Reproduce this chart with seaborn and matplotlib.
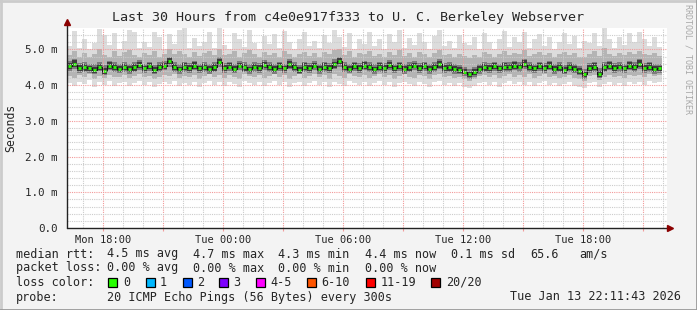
import numpy as np
import pandas as pd
import matplotlib
matplotlib.use("Agg")
import matplotlib.pyplot as plt
import seaborn as sns

# ---------------- data (ms, 15-minute bins) ----------------
median = [4.55, 4.60, 4.48, 4.50, 4.47, 4.42, 4.52, 4.40, 4.55, 4.50,
          4.46, 4.52, 4.44, 4.50, 4.56, 4.47, 4.53, 4.42, 4.50, 4.55,
          4.67, 4.50, 4.44, 4.52, 4.48, 4.55, 4.47, 4.52, 4.45, 4.50,
          4.65, 4.48, 4.52, 4.46, 4.55, 4.50, 4.44, 4.52, 4.48, 4.56,
          4.50, 4.45, 4.53, 4.47, 4.58, 4.50, 4.42, 4.52, 4.48, 4.55,
          4.45, 4.52, 4.48, 4.58, 4.67, 4.50, 4.46, 4.53, 4.48, 4.55,
          4.50, 4.44, 4.52, 4.48, 4.56, 4.47, 4.53, 4.45, 4.50, 4.55,
          4.48, 4.53, 4.45, 4.52, 4.58, 4.48, 4.50, 4.46, 4.42, 4.38,
          4.30, 4.36, 4.45, 4.50, 4.48, 4.53, 4.47, 4.52, 4.50, 4.55,
          4.52, 4.60, 4.50, 4.47, 4.53, 4.48, 4.55, 4.45, 4.50, 4.42,
          4.50, 4.46, 4.40, 4.30, 4.48, 4.52, 4.32, 4.50, 4.55, 4.48,
          4.52, 4.47, 4.55, 4.50, 4.60, 4.48, 4.52, 4.45, 4.47]

outer_hi = [5.10, 5.52, 5.05, 5.30, 5.00, 5.18, 5.58, 5.40, 5.12, 5.45,
            5.02, 5.25, 5.55, 5.48, 5.05, 5.20, 5.08, 5.50, 5.35, 5.00,
            5.42, 5.15, 5.55, 5.60, 5.05, 5.32, 5.10, 5.22, 5.50, 5.05,
            5.60, 5.12, 5.00, 5.45, 5.28, 5.08, 5.55, 5.18, 5.02, 5.38,
            5.15, 5.42, 5.05, 5.52, 5.20, 5.00, 5.30, 5.48, 5.10, 5.25,
            5.05, 5.40, 5.18, 5.55, 5.35, 5.08, 5.45, 5.02, 5.30, 5.15,
            5.50, 5.10, 5.28, 5.00, 5.42, 5.20, 5.55, 5.05, 5.32, 5.12,
            5.45, 5.22, 5.00, 5.38, 5.55, 5.10, 5.25, 5.05, 5.40, 5.18,
            5.12, 5.35, 5.02, 5.45, 5.20, 5.00, 5.30, 5.52, 5.08, 5.35,
            5.20, 5.48, 5.05, 5.28, 5.42, 5.10, 5.35, 5.00, 5.22, 5.45,
            5.15, 5.38, 5.05, 5.25, 5.18, 5.45, 5.10, 5.68, 5.28, 5.05,
            5.35, 5.12, 5.45, 5.20, 5.50, 5.28, 5.10, 5.35, 5.08]

outer_lo = [4.05, 3.98, 4.10, 4.02, 4.15, 3.95, 4.08, 4.00, 4.12, 3.97,
            4.05, 4.10, 3.98, 4.06, 4.12, 4.00, 4.08, 3.95, 4.04, 4.10,
            4.02, 4.12, 3.97, 4.06, 4.00, 4.10, 3.95, 4.05, 4.12, 4.00,
            4.08, 3.98, 4.10, 4.03, 3.96, 4.12, 4.05, 4.00, 4.10, 3.97,
            4.06, 4.12, 4.00, 4.08, 3.95, 4.05, 4.10, 3.98, 4.06, 4.12,
            4.00, 4.08, 3.96, 4.10, 4.04, 3.98, 4.12, 4.05, 4.00, 4.08,
            3.97, 4.06, 4.12, 4.00, 4.08, 3.95, 4.05, 4.10, 4.02, 3.98,
            4.10, 4.04, 3.96, 4.08, 4.12, 4.00, 4.06, 3.98, 4.05, 3.95,
            3.92, 3.98, 4.06, 4.10, 4.00, 4.08, 3.96, 4.05, 4.12, 4.02,
            4.08, 4.00, 4.10, 3.97, 4.05, 4.12, 4.00, 4.06, 3.98, 4.04,
            4.10, 3.98, 3.95, 3.92, 4.05, 4.08, 3.95, 4.02, 4.10, 4.00,
            4.06, 3.98, 4.10, 4.04, 4.08, 4.00, 4.12, 4.05, 4.10]

mid_hi = [4.85, 4.95, 4.80, 4.90, 4.78, 4.88, 5.00, 4.85, 4.80, 4.95,
          4.82, 4.92, 4.98, 4.85, 4.78, 4.90, 4.84, 4.96, 4.80, 4.88,
          5.00, 4.86, 4.95, 4.88, 4.80, 4.92, 4.83, 4.90, 4.97, 4.85,
          5.02, 4.84, 4.88, 4.95, 4.80, 4.90, 4.98, 4.86, 4.78, 4.92,
          4.84, 4.90, 4.80, 4.96, 4.88, 4.78, 4.86, 4.94, 4.82, 4.90,
          4.80, 4.92, 4.86, 4.98, 5.02, 4.84, 4.95, 4.80, 4.90, 4.86,
          4.96, 4.82, 4.88, 4.78, 4.92, 4.85, 4.98, 4.82, 4.90, 4.80,
          4.94, 4.86, 4.78, 4.90, 4.98, 4.84, 4.88, 4.80, 4.86, 4.82,
          4.75, 4.85, 4.80, 4.94, 4.86, 4.78, 4.88, 4.96, 4.84, 4.90,
          4.86, 4.98, 4.82, 4.88, 4.92, 4.84, 4.90, 4.78, 4.86, 4.94,
          4.84, 4.90, 4.80, 4.78, 4.86, 4.95, 4.82, 5.05, 4.88, 4.82,
          4.90, 4.84, 4.94, 4.86, 4.96, 4.88, 4.84, 4.90, 4.82]

mid_lo = [4.25, 4.20, 4.28, 4.22, 4.30, 4.18, 4.26, 4.20, 4.28, 4.22,
          4.24, 4.28, 4.20, 4.25, 4.30, 4.22, 4.27, 4.18, 4.24, 4.28,
          4.26, 4.30, 4.20, 4.26, 4.22, 4.28, 4.18, 4.25, 4.30, 4.22,
          4.28, 4.20, 4.28, 4.24, 4.18, 4.30, 4.25, 4.22, 4.28, 4.20,
          4.26, 4.30, 4.22, 4.28, 4.18, 4.25, 4.30, 4.20, 4.26, 4.30,
          4.22, 4.28, 4.18, 4.30, 4.26, 4.20, 4.30, 4.25, 4.22, 4.28,
          4.20, 4.26, 4.30, 4.22, 4.28, 4.18, 4.25, 4.30, 4.24, 4.20,
          4.28, 4.25, 4.18, 4.28, 4.30, 4.22, 4.26, 4.20, 4.22, 4.16,
          4.12, 4.18, 4.25, 4.28, 4.22, 4.28, 4.20, 4.26, 4.30, 4.24,
          4.28, 4.24, 4.30, 4.20, 4.26, 4.30, 4.22, 4.26, 4.20, 4.24,
          4.28, 4.20, 4.16, 4.12, 4.25, 4.28, 4.15, 4.24, 4.28, 4.22,
          4.26, 4.20, 4.28, 4.25, 4.28, 4.22, 4.30, 4.25, 4.28]

inner_hi = [4.68, 4.72, 4.62, 4.65, 4.60, 4.58, 4.66, 4.56, 4.68, 4.64,
            4.60, 4.66, 4.58, 4.64, 4.70, 4.60, 4.66, 4.56, 4.64, 4.68,
            4.80, 4.64, 4.58, 4.66, 4.62, 4.68, 4.60, 4.66, 4.58, 4.64,
            4.78, 4.62, 4.66, 4.60, 4.68, 4.64, 4.58, 4.66, 4.62, 4.70,
            4.64, 4.58, 4.66, 4.60, 4.72, 4.64, 4.56, 4.66, 4.62, 4.68,
            4.58, 4.66, 4.62, 4.72, 4.80, 4.64, 4.60, 4.66, 4.62, 4.68,
            4.64, 4.58, 4.66, 4.62, 4.70, 4.60, 4.66, 4.58, 4.64, 4.68,
            4.62, 4.66, 4.58, 4.66, 4.72, 4.62, 4.64, 4.60, 4.56, 4.52,
            4.46, 4.50, 4.58, 4.64, 4.62, 4.66, 4.60, 4.66, 4.64, 4.68,
            4.66, 4.74, 4.64, 4.60, 4.66, 4.62, 4.68, 4.58, 4.64, 4.56,
            4.64, 4.60, 4.54, 4.46, 4.62, 4.66, 4.48, 4.66, 4.68, 4.62,
            4.66, 4.60, 4.68, 4.64, 4.74, 4.62, 4.66, 4.58, 4.60]

inner_lo = [4.40, 4.45, 4.35, 4.38, 4.34, 4.30, 4.40, 4.28, 4.42, 4.36,
            4.34, 4.38, 4.32, 4.36, 4.42, 4.34, 4.40, 4.30, 4.36, 4.42,
            4.50, 4.36, 4.32, 4.38, 4.34, 4.42, 4.34, 4.38, 4.32, 4.36,
            4.50, 4.34, 4.40, 4.34, 4.42, 4.36, 4.32, 4.38, 4.34, 4.42,
            4.36, 4.32, 4.40, 4.34, 4.44, 4.36, 4.30, 4.38, 4.34, 4.42,
            4.32, 4.38, 4.34, 4.44, 4.52, 4.36, 4.34, 4.40, 4.34, 4.42,
            4.36, 4.32, 4.38, 4.34, 4.42, 4.34, 4.40, 4.32, 4.36, 4.42,
            4.34, 4.40, 4.32, 4.38, 4.44, 4.34, 4.36, 4.32, 4.30, 4.26,
            4.18, 4.24, 4.32, 4.36, 4.34, 4.40, 4.34, 4.38, 4.36, 4.42,
            4.38, 4.46, 4.36, 4.34, 4.40, 4.34, 4.42, 4.32, 4.36, 4.30,
            4.36, 4.34, 4.28, 4.18, 4.34, 4.38, 4.20, 4.36, 4.42, 4.34,
            4.38, 4.34, 4.42, 4.36, 4.46, 4.34, 4.38, 4.32, 4.34]

core_hi = [4.63, 4.69, 4.57, 4.58, 4.55, 4.51, 4.60, 4.49, 4.64, 4.58,
           4.55, 4.60, 4.53, 4.58, 4.65, 4.55, 4.62, 4.50, 4.58, 4.63,
           4.76, 4.58, 4.52, 4.61, 4.56, 4.64, 4.55, 4.60, 4.54, 4.58,
           4.74, 4.56, 4.61, 4.54, 4.63, 4.59, 4.52, 4.60, 4.57, 4.64,
           4.58, 4.53, 4.62, 4.55, 4.67, 4.58, 4.50, 4.61, 4.56, 4.63,
           4.53, 4.61, 4.56, 4.66, 4.76, 4.58, 4.54, 4.62, 4.56, 4.64,
           4.58, 4.52, 4.61, 4.56, 4.65, 4.55, 4.62, 4.53, 4.59, 4.63,
           4.56, 4.62, 4.53, 4.60, 4.67, 4.56, 4.59, 4.54, 4.50, 4.46,
           4.38, 4.44, 4.53, 4.59, 4.56, 4.62, 4.55, 4.61, 4.58, 4.64,
           4.60, 4.69, 4.58, 4.55, 4.62, 4.56, 4.64, 4.53, 4.59, 4.50,
           4.58, 4.54, 4.48, 4.38, 4.56, 4.61, 4.40, 4.59, 4.64, 4.56,
           4.60, 4.55, 4.64, 4.58, 4.69, 4.56, 4.61, 4.53, 4.55]

core_lo = [4.46, 4.51, 4.40, 4.41, 4.39, 4.34, 4.43, 4.32, 4.46, 4.42,
           4.38, 4.43, 4.36, 4.41, 4.48, 4.39, 4.45, 4.34, 4.42, 4.46,
           4.58, 4.42, 4.36, 4.43, 4.40, 4.46, 4.39, 4.43, 4.37, 4.41,
           4.56, 4.40, 4.44, 4.38, 4.47, 4.41, 4.36, 4.44, 4.39, 4.48,
           4.42, 4.37, 4.44, 4.39, 4.49, 4.42, 4.34, 4.43, 4.40, 4.47,
           4.37, 4.43, 4.40, 4.49, 4.58, 4.42, 4.38, 4.44, 4.40, 4.46,
           4.42, 4.36, 4.43, 4.40, 4.47, 4.39, 4.44, 4.37, 4.41, 4.47,
           4.40, 4.44, 4.37, 4.43, 4.49, 4.40, 4.41, 4.38, 4.34, 4.30,
           4.22, 4.28, 4.37, 4.41, 4.40, 4.44, 4.39, 4.43, 4.42, 4.46,
           4.44, 4.51, 4.42, 4.39, 4.44, 4.40, 4.46, 4.37, 4.41, 4.34,
           4.42, 4.38, 4.32, 4.22, 4.40, 4.43, 4.24, 4.41, 4.46, 4.40,
           4.44, 4.39, 4.46, 4.42, 4.51, 4.40, 4.43, 4.37, 4.39]

start_time = "2026-01-12 16:11:43"
bin_minutes = 15
x_tick_times = ["2026-01-12 18:00", "2026-01-13 00:00", "2026-01-13 06:00",
                "2026-01-13 12:00", "2026-01-13 18:00"]
x_tick_labels = ["Mon 18:00", "Tue 00:00", "Tue 06:00", "Tue 12:00", "Tue 18:00"]
y_tick_values = [0, 1, 2, 3, 4, 5]
y_tick_labels = ["0.0", "1.0 m", "2.0 m", "3.0 m", "4.0 m", "5.0 m"]

title = "Last 30 Hours from c4e0e917f333 to U. C. Berkeley Webserver"
loss_labels = ["0", "1", "2", "3", "4-5", "6-10", "11-19", "20/20"]
loss_colors = ["#26ff00", "#00b8ff", "#0059ff", "#7e00ff", "#ff00ff",
               "#ff5500", "#ff0000", "#a10000"]

# ---------------- figure ----------------
sns.set_style("white")
plt.rcParams["font.family"] = ["DejaVu Sans Mono", "DejaVu Sans"]

W, H = 697, 310
fig = plt.figure(figsize=(W / 100, H / 100), dpi=100)
fig.patch.set_facecolor("#f3f3f3")

def fx(px):
    return px / W

def fy(py):
    return 1 - py / H

ax = fig.add_axes([fx(67), fy(228), 600 / W, 200 / H])
ax.set_facecolor("white")
for s in ax.spines.values():
    s.set_visible(False)

t0 = pd.Timestamp(start_time)
n = len(median)
edges = np.arange(n + 1) * bin_minutes / 60.0
centers = (edges[:-1] + edges[1:]) / 2
bw = bin_minutes / 60.0

def band(lo, hi, color, z):
    lo2 = np.append(lo, lo[-1])
    hi2 = np.append(hi, hi[-1])
    ax.fill_between(edges, lo2, hi2, step="post", color=color, lw=0, zorder=z)

band(outer_lo, outer_hi, "#dcdcdc", 1)
band(mid_lo, mid_hi, "#b4b4b4", 2)
band(inner_lo, inner_hi, "#7c7c7c", 3)
band(core_lo, core_hi, "#3c3c3c", 3.5)

df = pd.DataFrame({"hours": centers, "median": median})
sns.lineplot(data=df, x="hours", y="median", ax=ax, color="#111111",
             lw=0.7, drawstyle="steps-mid", zorder=4)
ax.hlines(median, centers - bw * 0.36, centers + bw * 0.36,
          colors="#26ff00", lw=2.0, zorder=5)

ax.set_xlim(0, 30)
ax.set_ylim(0, 5.6)
ax.set_xlabel("")
ax.set_ylabel("")

# grid
first_hour = (t0.ceil("h") - t0) / pd.Timedelta(hours=1)
hour_lines = np.arange(first_hour, 30, 1.0)
grid_kw = dict(lw=0.8, linestyles=(0, (1, 1)), zorder=6)
major_v = [h for h in hour_lines
           if (t0 + pd.Timedelta(hours=h)).round("min").hour % 3 == 0]
minor_v = [h for h in hour_lines if h not in major_v]
ax.vlines(minor_v, 0, 5.6, colors="#cccccc", **grid_kw)
ax.vlines(major_v, 0, 5.6, colors="#f29a9a", **grid_kw)
minor_h = [v for v in np.arange(0.2, 5.6, 0.2) if abs(v - round(v)) > 1e-6]
ax.hlines(minor_h, 0, 30, colors="#cccccc", **grid_kw)
ax.hlines([1, 2, 3, 4, 5], 0, 30, colors="#f29a9a", **grid_kw)

# ticks
tick_pos = [(pd.Timestamp(t) - t0) / pd.Timedelta(hours=1) for t in x_tick_times]
ax.set_xticks(tick_pos)
ax.set_xticklabels(x_tick_labels, fontsize=7.5)
ax.set_yticks(y_tick_values)
ax.set_yticklabels(y_tick_labels, fontsize=7.8)
ax.tick_params(axis="both", length=0, pad=7)
ax.tick_params(axis="x", pad=5)
ax.vlines(major_v, -0.07, 0, colors="#f29a9a", lw=0.8, clip_on=False, zorder=6)

# axes lines + arrows
ax.plot([0, 0], [0, 5.72], color="#222222", lw=1.0, clip_on=False, zorder=7)
ax.plot([0, 30.1], [0, 0], color="#222222", lw=1.0, clip_on=False, zorder=7)
ax.plot([0], [5.76], marker="^", ms=4.5, color="#8b0000", clip_on=False, zorder=8)
ax.plot([30.15], [0], marker=">", ms=4.5, color="#8b0000", clip_on=False, zorder=8)

# texts
fig.text(0.5, fy(18), title, ha="center", va="center", fontsize=9.6)
fig.text(fx(11), fy(128), "Seconds", rotation=90, ha="center", va="center",
         fontsize=8.3)
fig.text(fx(688), fy(4), "RRDTOOL / TOBI OETIKER", rotation=270, ha="center",
         va="top", fontsize=6.0, color="#a8a8a8")

fs = 8.5
rows = [
    (254, [(16, "median rtt:"), (107, "4.5 ms avg"), (193, "4.7 ms max"),
           (278, "4.3 ms min"), (365, "4.4 ms now"), (451, "0.1 ms sd"),
           (530, "65.6"), (579, "am/s")]),
    (268, [(16, "packet loss:"), (107, "0.00 % avg"), (193, "0.00 % max"),
           (278, "0.00 % min"), (365, "0.00 % now")]),
    (282, [(16, "loss color:")]),
    (297, [(16, "probe:"), (107, "20 ICMP Echo Pings (56 Bytes) every 300s")]),
]
for yy, items in rows:
    for xx, txt in items:
        fig.text(fx(xx), fy(yy), txt, ha="left", va="center", fontsize=fs)
fig.text(fx(681), fy(297), "Tue Jan 13 22:11:43 2026", ha="right",
         va="center", fontsize=fs)

box_x = [108, 146, 183, 219, 256, 307, 366, 431]
lab_x = [123, 160, 197, 233, 270, 321, 381, 446]
for bx, lx, lab, col in zip(box_x, lab_x, loss_labels, loss_colors):
    fig.patches.append(matplotlib.patches.Rectangle(
        (fx(bx), fy(287)), 9 / W, 9 / H, transform=fig.transFigure,
        facecolor=col, edgecolor="black", lw=0.9))
    fig.text(fx(lx), fy(282), lab, ha="left", va="center", fontsize=fs)

# bevel frame
fig.add_artist(matplotlib.lines.Line2D([0, 1], [fy(0.5), fy(0.5)],
               transform=fig.transFigure, color="#cbcbcb", lw=2))
fig.add_artist(matplotlib.lines.Line2D([fx(0.5), fx(0.5)], [0, 1],
               transform=fig.transFigure, color="#cbcbcb", lw=2))
fig.add_artist(matplotlib.lines.Line2D([0, 1], [fy(309.5), fy(309.5)],
               transform=fig.transFigure, color="#999999", lw=2))
fig.add_artist(matplotlib.lines.Line2D([fx(696.5), fx(696.5)], [0, 1],
               transform=fig.transFigure, color="#999999", lw=2))

fig.savefig("out.png", dpi=100, facecolor=fig.get_facecolor())
